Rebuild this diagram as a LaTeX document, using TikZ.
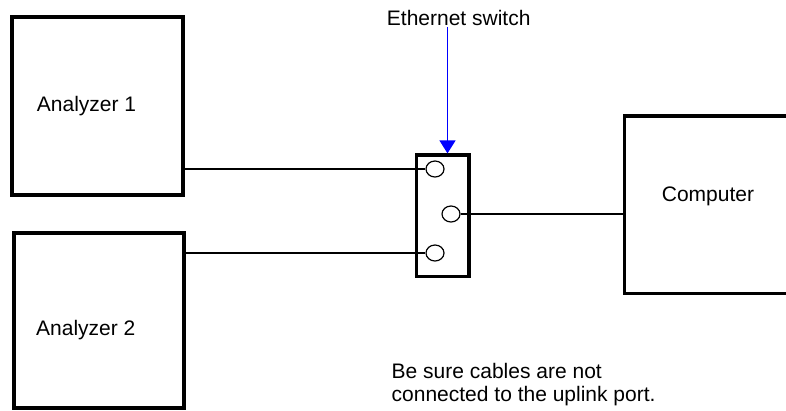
\documentclass[tikz,border=0pt]{standalone}
\usepackage{fontspec}
\setmainfont{Liberation Sans}
\usetikzlibrary{arrows.meta,shapes.geometric}
\begin{document}
\begin{tikzpicture}[x=1pt,y=-1pt,
  boxstyle/.style={draw,line width=3.2pt,rectangle,inner sep=0pt,minimum width=#1},
  wire/.style={draw,line width=2pt},
  portstyle/.style={draw,ellipse,line width=1.2pt,inner sep=0pt,minimum width=18pt,minimum height=16pt},
  txt/.style={inner sep=0pt,anchor=base west,font=\fontsize{21}{24}\selectfont},
  pointer/.style={draw=blue,line width=1.3pt,-{Triangle[width=16pt,length=13pt,fill=blue]}}]
\useasboundingbox (0,0) rectangle (786,410);
\clip (0,0) rectangle (786,410);
% boxes
\node[boxstyle=171pt,minimum height=178pt] (a1) at (97.5,106) {};
\node[boxstyle=170pt,minimum height=175pt] (a2) at (99,320.5) {};
\node[boxstyle=52.3pt,minimum height=121.7pt] (sw) at (442.85,215.85) {};
\node[boxstyle=200pt,minimum height=177.3pt] (pc) at (724.3,204.65) {};
% ports
\node[portstyle] (p1) at (435,169) {};
\node[portstyle] (p2) at (451,214) {};
\node[portstyle] (p3) at (435,253) {};
% wires
\draw[wire] (a1.east |- p1.west) -- (p1.west);
\draw[wire] (a2.east |- p3.west) -- (p3.west);
\draw[wire] (p2.east) -- (pc.west |- p2.east);
% labels
\node[txt] (t1) at (36.7,111.7) {Analyzer 1};
\node[txt] (t2) at (36,335) {Analyzer 2};
\node[txt] (t3) at (661.7,201) {Computer};
\node[txt] (t4) at (386.7,25) {Ethernet switch};
\node[txt] (t5) at (391.5,378.3) {Be sure cables are not};
\node[txt] (t6) at (391.5,401.5) {connected to the uplink port.};
% pointer
\coordinate (ps) at (447.5,27);
\draw[pointer] (ps) -- (ps |- sw.north);
\end{tikzpicture}
\end{document}
